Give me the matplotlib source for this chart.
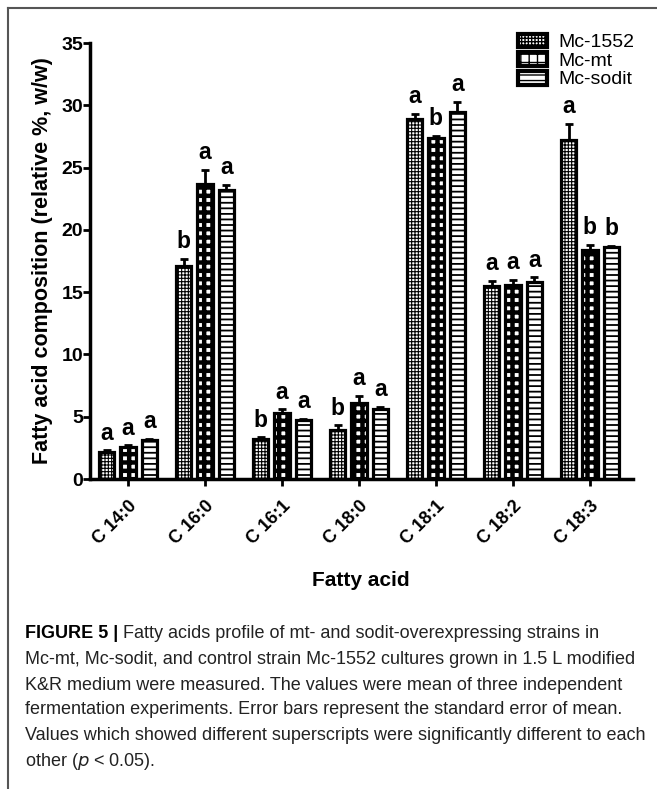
import matplotlib
matplotlib.use("Agg")
import matplotlib.pyplot as plt
import numpy as np
from matplotlib.lines import Line2D
from matplotlib.patches import Patch

plt.rcParams["font.family"] = ["Liberation Sans", "DejaVu Sans"]

acids = ["C 14:0", "C 16:0", "C 16:1", "C 18:0", "C 18:1", "C 18:2", "C 18:3"]
strains = ["Mc-1552", "Mc-mt", "Mc-sodit"]

mc1552 = [2.2, 17.1, 3.2, 3.9, 28.9, 15.5, 27.2]
mc_mt = [2.6, 23.7, 5.3, 6.1, 27.4, 15.6, 18.4]
mc_sodit = [3.1, 23.2, 4.7, 5.6, 29.5, 15.8, 18.6]

err1552 = [0.1, 0.6, 0.15, 0.4, 0.4, 0.4, 1.3]
err_mt = [0.1, 1.1, 0.3, 0.6, 0.15, 0.4, 0.4]
err_sodit = [0.15, 0.4, 0.15, 0.2, 0.8, 0.4, 0.1]

letters1552 = ["a", "b", "b", "b", "a", "a", "a"]
letters_mt = ["a", "a", "a", "a", "b", "a", "b"]
letters_sodit = ["a", "a", "a", "a", "a", "a", "b"]

yticks = [0, 5, 10, 15, 20, 25, 30, 35]

series = [
    (mc1552, err1552, letters1552, "+++++", 0.8),
    (mc_mt, err_mt, letters_mt, "++", 3.2),
    (mc_sodit, err_sodit, letters_sodit, "---", 1.3),
]


def set_hlw(p, lw):
    if hasattr(p, "set_hatch_linewidth"):
        p.set_hatch_linewidth(lw)
    else:
        p._hatch_linewidth = lw


fig = plt.figure(figsize=(6.57, 7.89), dpi=100)
ax = fig.add_axes([90/657, 1-479/789, (633-90)/657, (479-43)/789])

x = np.arange(len(acids))
width = 0.2
step = 0.277
handles = []
for i, (vals, errs, lets, hatch, hlw) in enumerate(series):
    pos = x + (i-1)*step
    bars = ax.bar(pos, vals, width, color="white", edgecolor="black", hatch=hatch,
                  linewidth=0, zorder=2)
    for b in bars:
        set_hlw(b, hlw)
    h = Patch(facecolor="white", edgecolor="black", hatch=hatch,
              linewidth=3, label=strains[i])
    set_hlw(h, hlw)
    handles.append(h)
    ax.bar(pos, vals, width, color="none", edgecolor="black", linewidth=2.3, zorder=3)
    ax.errorbar(pos, vals, yerr=[np.zeros(len(vals)), errs], fmt="none",
                ecolor="black", elinewidth=2, capsize=3, capthick=2, zorder=4)
    for p, v, e, l in zip(pos, vals, errs, lets):
        ax.text(p, v+e+0.45, l, ha="center", va="bottom", fontsize=16.5,
                fontweight="bold", zorder=5)

ax.set_xlim(-0.494, 6.56)
ax.set_ylim(0, 35)
ax.set_yticks(yticks)
ax.set_xticks(x)
ax.set_xticklabels(acids, rotation=45, ha="right", rotation_mode="anchor",
                   fontsize=13, fontweight="bold")
for t in ax.get_yticklabels():
    t.set_fontweight("bold")
    t.set_fontsize(14)
ax.tick_params(axis="both", width=2, length=5)
ax.tick_params(axis="x", pad=8)
ax.tick_params(axis="y", pad=0)
for s in ["top", "right"]:
    ax.spines[s].set_visible(False)
for s in ["left", "bottom"]:
    ax.spines[s].set_linewidth(2.5)

ax.set_ylabel("Fatty acid composition (relative %, w/w)", fontsize=15.5,
              fontweight="bold", labelpad=6)
fig.text(361/657, 1-580/789, "Fatty acid", ha="center", va="center",
         fontsize=15, fontweight="bold")

leg = fig.legend(handles=handles, loc="upper left", bbox_to_anchor=(508/657, 1-24/789),
                 frameon=False, fontsize=14, labelspacing=0.05, handlelength=1.5,
                 handleheight=0.7, handletextpad=0.6, borderpad=0)

# frame lines
fig.add_artist(Line2D([8/657, 1], [1-8/789, 1-8/789], color="#555555", lw=1.5))
fig.add_artist(Line2D([8/657, 8/657], [0, 1-8/789], color="#555555", lw=1.5))

cap_lines = [
    "Fatty acids profile of mt- and sodit-overexpressing strains in",
    "Mc-mt, Mc-sodit, and control strain Mc-1552 cultures grown in 1.5 L modified",
    "K&R medium were measured. The values were mean of three independent",
    "fermentation experiments. Error bars represent the standard error of mean.",
    "Values which showed different superscripts were significantly different to each",
    "other ($\\it{p}$ < 0.05).",
]
cap_font = ["Liberation Sans Narrow", "Liberation Sans", "DejaVu Sans"]
cap_size = 13
line_y = [634, 660, 685, 710, 736, 761]
bold = fig.text(25/657, 1-line_y[0]/789, "FIGURE 5 |", family=cap_font,
                fontsize=cap_size, fontweight="bold", va="center")
ax.annotate(" " + cap_lines[0], xy=(1, 0.5), xycoords=bold, va="center",
            ha="left", family=cap_font, fontsize=cap_size, color="#222222",
            annotation_clip=False)
for ln, yy in zip(cap_lines[1:], line_y[1:]):
    fig.text(25/657, 1-yy/789, ln, family=cap_font, fontsize=cap_size, va="center",
             color="#222222")

fig.savefig("out.png", dpi=100)
